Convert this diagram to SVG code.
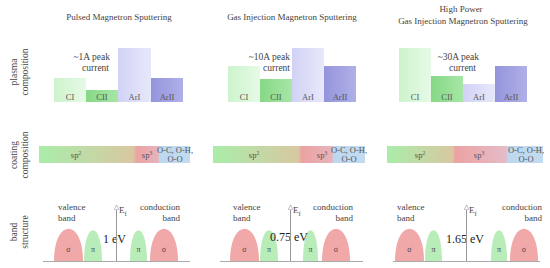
<svg xmlns="http://www.w3.org/2000/svg" width="550" height="268" viewBox="0 0 550 268">
<defs>
<linearGradient id="gCI" x1="0" y1="0" x2="1" y2="0"><stop offset="0" stop-color="#cdf3cd"/><stop offset="1" stop-color="#e6fae6"/></linearGradient>
<linearGradient id="gCII" x1="0" y1="0" x2="1" y2="0"><stop offset="0" stop-color="#86d886"/><stop offset="1" stop-color="#a6e6a6"/></linearGradient>
<linearGradient id="gArI" x1="0" y1="0" x2="1" y2="0"><stop offset="0" stop-color="#d2d2f6"/><stop offset="1" stop-color="#e8e8fb"/></linearGradient>
<linearGradient id="gArII" x1="0" y1="0" x2="1" y2="0"><stop offset="0" stop-color="#9494dc"/><stop offset="1" stop-color="#b0b0e8"/></linearGradient>
<linearGradient id="gCoat1" x1="0" y1="0" x2="1" y2="0">
<stop offset="0" stop-color="#a9eda9"/><stop offset="0.62" stop-color="#d8c8a2"/><stop offset="0.65" stop-color="#eca2a2"/><stop offset="0.79" stop-color="#e6b4bc"/><stop offset="0.795" stop-color="#bcd8ef"/><stop offset="1" stop-color="#c2dbf0"/></linearGradient>
<linearGradient id="gCoat2" x1="0" y1="0" x2="1" y2="0">
<stop offset="0" stop-color="#a9eda9"/><stop offset="0.56" stop-color="#d8c8a2"/><stop offset="0.585" stop-color="#eca2a2"/><stop offset="0.785" stop-color="#e6b4bc"/><stop offset="0.79" stop-color="#bcd8ef"/><stop offset="1" stop-color="#c2dbf0"/></linearGradient>
<linearGradient id="gCoat3" x1="0" y1="0" x2="1" y2="0">
<stop offset="0" stop-color="#a9eda9"/><stop offset="0.42" stop-color="#d8c8a2"/><stop offset="0.436" stop-color="#eca2a2"/><stop offset="0.765" stop-color="#e4bcc8"/><stop offset="0.77" stop-color="#bcd8ef"/><stop offset="1" stop-color="#c2dbf0"/></linearGradient>
<marker id="arr" viewBox="0 0 10 10" refX="9" refY="5" markerWidth="6" markerHeight="6" orient="auto" markerUnits="userSpaceOnUse">
<path d="M1,1 L9,5 L1,9 Z" fill="#fff" stroke="#999" stroke-width="1"/>
</marker>
</defs>
<style>
text{font-family:"Liberation Serif","DejaVu Serif",serif;fill:#444}
.t{font-size:9px;text-anchor:middle}
.bl{font-size:8.5px;text-anchor:middle;fill:#555}
.pk{font-size:9.5px;text-anchor:end}
.side{font-size:9.5px;text-anchor:middle}
.bn{font-size:9px}
.ev{font-size:12px;fill:#222}
.sym{font-size:8px;text-anchor:middle;fill:#444}
.sig{fill:#f0a8a8}
.pi{fill:#b8ecb8}
.base{stroke:#aaa;stroke-width:1;fill:none}
.ef{stroke:#999;stroke-width:1;fill:none}
</style>

<g id="titles">
<text class="t" x="119" y="20">Pulsed Magnetron Sputtering</text>
<text class="t" x="292" y="20">Gas Injection Magnetron Sputtering</text>
<text class="t" x="461" y="12">High Power</text>
<text class="t" x="463" y="24">Gas Injection Magnetron Sputtering</text>
</g>

<g id="side-labels">
<text class="side" transform="translate(17,72) rotate(-90)">plasma</text>
<text class="side" transform="translate(28,72) rotate(-90)">composition</text>
<text class="side" transform="translate(17,155) rotate(-90)">coating</text>
<text class="side" transform="translate(28,155) rotate(-90)">composition</text>
<text class="side" transform="translate(17,232) rotate(-90)">band</text>
<text class="side" transform="translate(28,232) rotate(-90)">structure</text>
</g>

<!-- Plasma composition panel 1 -->
<g id="p1-CI"><rect x="54" y="78" width="32" height="24" fill="url(#gCI)"/><text class="bl" x="70" y="100">CI</text></g>
<g id="p1-CII"><rect x="86" y="90" width="32" height="12" fill="url(#gCII)"/><text class="bl" x="102" y="100">CII</text></g>
<g id="p1-ArI"><rect x="118" y="48" width="33" height="54" fill="url(#gArI)"/><text class="bl" x="134.5" y="100">ArI</text></g>
<g id="p1-ArII"><rect x="151" y="78" width="32" height="24" fill="url(#gArII)"/><text class="bl" x="167" y="100">ArII</text></g>
<g id="p1-peak"><text class="pk" x="110" y="60">~1A peak</text><text class="pk" x="109" y="71">current</text></g>

<!-- panel 2 -->
<g id="p2-CI"><rect x="228" y="66" width="32" height="36" fill="url(#gCI)"/><text class="bl" x="244" y="100">CI</text></g>
<g id="p2-CII"><rect x="260" y="79" width="32" height="23" fill="url(#gCII)"/><text class="bl" x="276" y="100">CII</text></g>
<g id="p2-ArI"><rect x="292" y="48" width="32" height="54" fill="url(#gArI)"/><text class="bl" x="308" y="100">ArI</text></g>
<g id="p2-ArII"><rect x="324" y="66" width="32" height="36" fill="url(#gArII)"/><text class="bl" x="340" y="100">ArII</text></g>
<g id="p2-peak"><text class="pk" x="290" y="60">~10A peak</text><text class="pk" x="290" y="71">current</text></g>

<!-- panel 3 -->
<g id="p3-CI"><rect x="399" y="48" width="32" height="54" fill="url(#gCI)"/><text class="bl" x="415" y="100">CI</text></g>
<g id="p3-CII"><rect x="431" y="76" width="32" height="26" fill="url(#gCII)"/><text class="bl" x="447" y="100">CII</text></g>
<g id="p3-ArI"><rect x="463" y="84" width="32" height="18" fill="url(#gArI)"/><text class="bl" x="479" y="100">ArI</text></g>
<g id="p3-ArII"><rect x="495" y="66" width="32" height="36" fill="url(#gArII)"/><text class="bl" x="511" y="100">ArII</text></g>
<g id="p3-peak"><text class="pk" x="479" y="60">~30A peak</text><text class="pk" x="476" y="71">current</text></g>

<!-- coating composition -->
<g id="coat1">
<rect x="39" y="146" width="151" height="17" fill="url(#gCoat1)"/>
<text class="bl" x="76" y="158">sp<tspan font-size="5.5" dy="-3">2</tspan></text>
<text class="bl" x="147" y="158">sp<tspan font-size="5.5" dy="-3">3</tspan></text>
<text class="bl" x="175" y="153">O-C, O-H,</text>
<text class="bl" x="175" y="161.5">O-O</text>
</g>
<g id="coat2">
<rect x="213" y="146" width="152" height="17" fill="url(#gCoat2)"/>
<text class="bl" x="254" y="158">sp<tspan font-size="5.5" dy="-3">2</tspan></text>
<text class="bl" x="322" y="158">sp<tspan font-size="5.5" dy="-3">3</tspan></text>
<text class="bl" x="349" y="153">O-C, O-H,</text>
<text class="bl" x="349" y="161.5">O-O</text>
</g>
<g id="coat3">
<rect x="387" y="146" width="156" height="17" fill="url(#gCoat3)"/>
<text class="bl" x="420" y="158">sp<tspan font-size="5.5" dy="-3">2</tspan></text>
<text class="bl" x="479" y="158">sp<tspan font-size="5.5" dy="-3">3</tspan></text>
<text class="bl" x="526" y="153">O-C, O-H,</text>
<text class="bl" x="526" y="161.5">O-O</text>
</g>

<!-- band structure panel 1 -->
<g id="b1-sigma-v"><path class="sig" d="M54,261 C54,218 83,218 83,261 Z"/><text class="sym" x="68.5" y="252">σ</text></g>
<g id="b1-pi-v"><path class="pi" d="M84,261 C84,220 102,220 102,261 Z"/><text class="sym" x="93" y="252">π</text></g>
<g id="b1-pi-c"><path class="pi" d="M130,261 C130,220 147,220 147,261 Z"/><text class="sym" x="138.5" y="252">π</text></g>
<g id="b1-sigma-c"><path class="sig" d="M150,261 C150,218 178,218 178,261 Z"/><text class="sym" x="164" y="252">σ</text></g>
<g id="b1-labels">
<text class="bn" x="58" y="210">valence</text><text class="bn" x="58" y="221">band</text>
<text class="bn" x="180" y="210" text-anchor="end">conduction</text><text class="bn" x="180" y="221" text-anchor="end">band</text>
<text class="bn" x="119" y="213">E<tspan font-size="6.5" dy="2.5">f</tspan></text>
<text class="ev" x="103" y="243">1 eV</text>
</g>

<!-- panel 2 -->
<g id="b2-sigma-v"><path class="sig" d="M230,261 C230,218 259,218 259,261 Z"/><text class="sym" x="244.5" y="252">σ</text></g>
<g id="b2-pi-v"><path class="pi" d="M260,261 C260,220 278,220 278,261 Z"/><text class="sym" x="269" y="252">π</text></g>
<g id="b2-pi-c"><path class="pi" d="M303,261 C303,220 318,220 318,261 Z"/><text class="sym" x="310.5" y="252">π</text></g>
<g id="b2-sigma-c"><path class="sig" d="M322,261 C322,218 350,218 350,261 Z"/><text class="sym" x="336" y="252">σ</text></g>
<g id="b2-labels">
<text class="bn" x="233" y="210">valence</text><text class="bn" x="233" y="221">band</text>
<text class="bn" x="353" y="210" text-anchor="end">conduction</text><text class="bn" x="353" y="221" text-anchor="end">band</text>
<text class="bn" x="293" y="213">E<tspan font-size="6.5" dy="2.5">f</tspan></text>
<text class="ev" x="270" y="241">0.75 eV</text>
</g>

<!-- panel 3 -->
<g id="b3-sigma-v"><path class="sig" d="M395,261 C395,218 424,218 424,261 Z"/><text class="sym" x="409.5" y="252">σ</text></g>
<g id="b3-pi-v"><path class="pi" d="M425,261 C425,220 442,220 442,261 Z"/><text class="sym" x="433.5" y="252">π</text></g>
<g id="b3-pi-c"><path class="pi" d="M491,261 C491,220 507,220 507,261 Z"/><text class="sym" x="499" y="252">π</text></g>
<g id="b3-sigma-c"><path class="sig" d="M510,261 C510,218 538,218 538,261 Z"/><text class="sym" x="524" y="252">σ</text></g>
<g id="b3-labels">
<text class="bn" x="397" y="210">valence</text><text class="bn" x="397" y="221">band</text>
<text class="bn" x="542" y="210" text-anchor="end">conduction</text><text class="bn" x="542" y="221" text-anchor="end">band</text>
<text class="bn" x="469" y="213">E<tspan font-size="6.5" dy="2.5">f</tspan></text>
<text class="ev" x="446" y="243">1.65 eV</text>
</g>

<g id="connectors">
<line class="base" x1="43" y1="261.5" x2="190" y2="261.5"/>
<line class="base" x1="220" y1="261.5" x2="363" y2="261.5"/>
<line class="base" x1="393" y1="261.5" x2="540" y2="261.5"/>
<line class="ef" x1="116.5" y1="261" x2="116.5" y2="205" marker-end="url(#arr)"/>
<line class="ef" x1="290.5" y1="261" x2="290.5" y2="205" marker-end="url(#arr)"/>
<line class="ef" x1="466.5" y1="261" x2="466.5" y2="205" marker-end="url(#arr)"/>
</g>
</svg>
